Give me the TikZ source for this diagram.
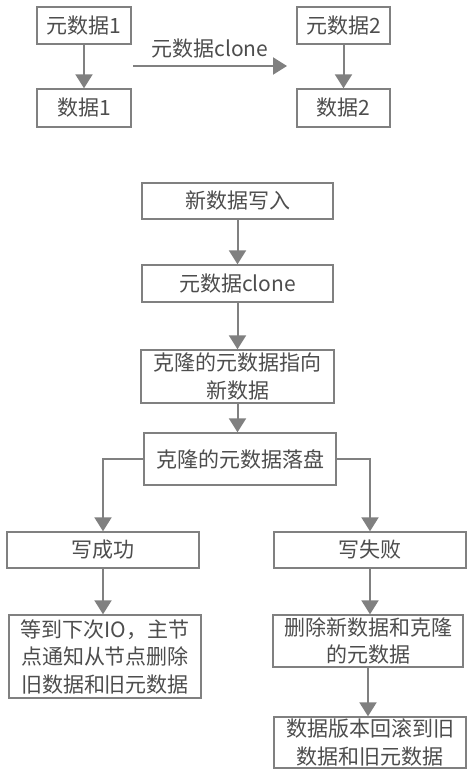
\documentclass[tikz,border=0pt]{standalone}
\usepackage{fontspec}
\setmainfont{Noto Sans CJK SC}
\usetikzlibrary{arrows.meta}
\definecolor{linec}{HTML}{808080}
\definecolor{textc}{HTML}{4d4d4d}
\tikzset{
  box/.style={draw=linec, line width=1.4pt, rectangle, inner sep=0pt, align=center,
    text=textc, font=\fontsize{21}{27.5}\selectfont},
  arr/.style={draw=linec, line width=2pt, -{Triangle[width=17pt,length=14pt]}},
}
\begin{document}
\begin{tikzpicture}[x=1pt,y=-1pt]
\useasboundingbox[fill=white] (0,0) rectangle (474,777);
% top section
\node[box, minimum width=94pt, minimum height=37pt] (m1) at (84,25.5) {元数据1};
\node[box, minimum width=94pt, minimum height=38pt] (d1) at (84,108) {数据1};
\node[box, minimum width=93pt, minimum height=37pt] (m2) at (343.5,25.5) {元数据2};
\node[box, minimum width=93pt, minimum height=38pt] (d2) at (343.5,108) {数据2};
\draw[arr] (m1) -- (d1);
\draw[arr] (m2) -- (d2);
\coordinate (ha) at (133,66);
\coordinate (hb) at (287,66);
\draw[arr] (ha) -- (hb) node[midway, above=3pt, text=textc, font=\fontsize{21}{24}\selectfont] (lbl) {元数据clone};
% flow
\node[box, minimum width=191pt, minimum height=36pt] (n1) at (237.5,201) {新数据写入};
\node[box, minimum width=191pt, minimum height=37pt] (n2) at (237.5,283.5) {元数据clone};
\node[box, minimum width=193pt, minimum height=53pt] (n3) at (237.5,376.5) {克隆的元数据指向\\新数据};
\node[box, minimum width=192pt, minimum height=52pt] (n4) at (240,459) {克隆的元数据落盘};
\node[box, minimum width=192pt, minimum height=36pt] (s1) at (103,550) {写成功};
\node[box, minimum width=192pt, minimum height=83pt] (s2) at (105,656.5) {等到下次IO，主节\\点通知从节点删除\\旧数据和旧元数据};
\node[box, minimum width=192pt, minimum height=36pt] (f1) at (370,550) {写失败};
\node[box, minimum width=190pt, minimum height=52pt] (f2) at (368,641) {删除新数据和克隆\\的元数据};
\node[box, minimum width=192pt, minimum height=51pt] (f3) at (370,742.5) {数据版本回滚到旧\\数据和旧元数据};
\draw[arr] (n1) -- (n2);
\draw[arr] (n2) -- (n3);
\draw[arr] (n3) -- (n3 |- n4.north);
\draw[arr] (n4.west) -| (s1.north);
\draw[arr] (n4.east) -| (f1.north);
\draw[arr] (s1.south) -- (s1.south |- s2.north);
\draw[arr] (f1.south) -- (f1.south |- f2.north);
\draw[arr] (f2.south) -- (f2.south |- f3.north);
\end{tikzpicture}
\end{document}
